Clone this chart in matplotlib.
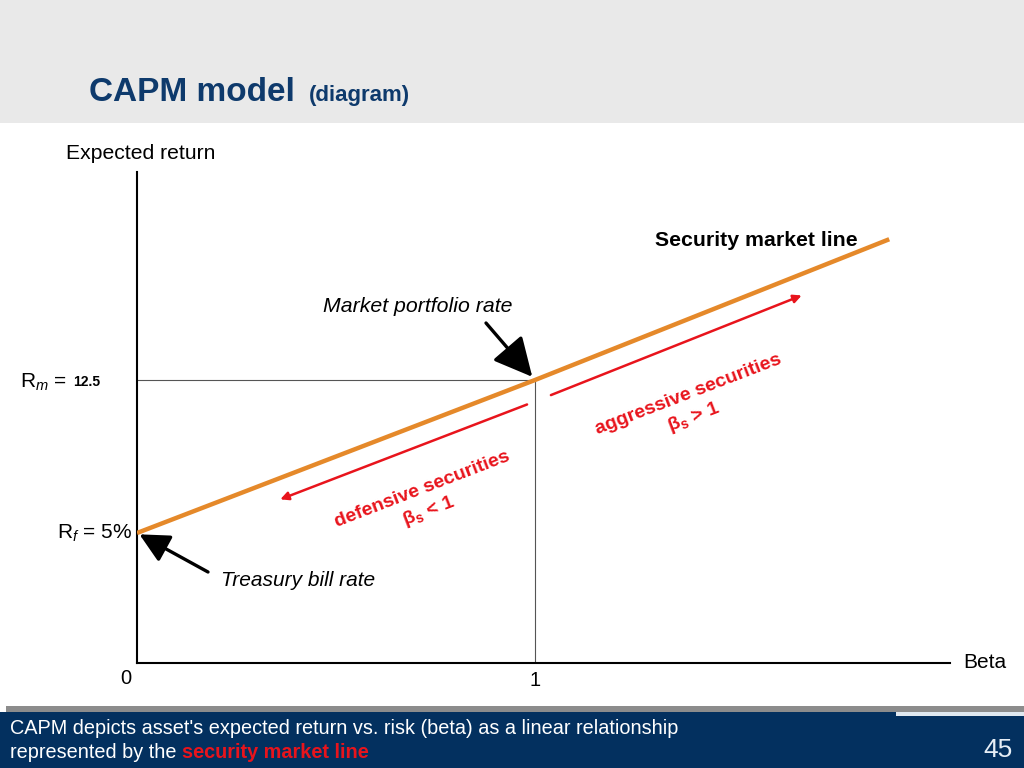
import numpy as np
import matplotlib
matplotlib.use('Agg')
import matplotlib.pyplot as plt
from matplotlib.patches import Rectangle

plt.rcParams['font.family'] = ['Liberation Sans', 'DejaVu Sans']
plt.rcParams['mathtext.fontset'] = 'custom'
plt.rcParams['mathtext.rm'] = 'Liberation Sans'
plt.rcParams['mathtext.it'] = 'Liberation Sans:italic'
plt.rcParams['mathtext.bf'] = 'Liberation Sans:bold'

# data
sml_beta = [0.0, 1.0, 1.89]
sml_return = [5.0, 12.5, 19.4]
rf = 5.0
rm = 12.5
defensive_beta = [0.36, 0.98]   # arrow points to the left
aggressive_beta = [1.04, 1.67]  # arrow points to the right
arrow_offset = -1.05

W, H = 1024, 768
fig = plt.figure(figsize=(W / 100, H / 100), dpi=100)


def fx(px):
    return px / W


def fy(py):
    return 1 - py / H


# header band
fig.patches.append(Rectangle((0, fy(123)), 1, 1 - fy(123), transform=fig.transFigure,
                             facecolor='#e9e9e9', edgecolor='none', zorder=0))
fig.text(fx(89), fy(101), 'CAPM model', fontsize=24, fontweight='bold', color='#0e3a6c', va='baseline')
fig.text(fx(309), fy(101), '(diagram)', fontsize=16, fontweight='bold', color='#0e3a6c', va='baseline')

# footer
navy = '#03305f'
fig.patches.append(Rectangle((fx(6), fy(712)), 1, fy(706) - fy(712), transform=fig.transFigure,
                             facecolor='#8c8c8c', edgecolor='none', zorder=0))
fig.patches.append(Rectangle((0, 0), fx(896), fy(712), transform=fig.transFigure,
                             facecolor=navy, edgecolor='none', zorder=1))
fig.patches.append(Rectangle((fx(896), fy(716)), 1, fy(712) - fy(716), transform=fig.transFigure,
                             facecolor='#dfe8f0', edgecolor='none', zorder=1))
fig.patches.append(Rectangle((fx(896), 0), 1, fy(716), transform=fig.transFigure,
                             facecolor=navy, edgecolor='none', zorder=1))
fig.text(fx(10), fy(734), "CAPM depicts asset's expected return vs. risk (beta) as a linear relationship",
         fontsize=14.3, color='white', va='baseline', zorder=2)
t1 = fig.text(fx(10), fy(758), 'represented by the ', fontsize=14.3, color='white', va='baseline', zorder=2)
fig.canvas.draw()
bb = t1.get_window_extent()
fig.text(bb.x1 / W, fy(758), 'security market line', fontsize=14.3, color='#e8141c',
         fontweight='bold', va='baseline', zorder=2)
fig.text(fx(1013), fy(757), '45', fontsize=19, color='#e6eef6', ha='right', va='baseline', zorder=2)

# axes placed so that beta 0 -> x=137px, beta 1 -> 535px, return 5 -> 533px, 12.5 -> 380px
ax = fig.add_axes([fx(137), fy(663), fx(950) - fx(137), fy(172) - fy(663)])
px_per_beta = 398.0
px_per_ret = (533 - 380) / (rm - rf)
ax.set_xlim(0, (950 - 137) / px_per_beta)
ax.set_ylim(rf - (663 - 533) / px_per_ret, rf + (533 - 172) / px_per_ret)
ax.patch.set_alpha(0)
for s in ['top', 'right']:
    ax.spines[s].set_visible(False)
for s in ['left', 'bottom']:
    ax.spines[s].set_linewidth(1.5)
ax.set_xticks([1])
ax.set_xticklabels(['1'], fontsize=14.5)
ax.set_yticks([])
ax.tick_params(axis='x', length=0, pad=6)

ymin = ax.get_ylim()[0]
ax.plot([0, 1], [rm, rm], color='#555555', lw=0.8, zorder=2)
ax.plot([1, 1], [ymin, rm], color='#555555', lw=0.8, zorder=2)

# security market line
ax.plot(sml_beta, sml_return, color='#e5892a', lw=3.2, solid_capstyle='butt', zorder=3)

# red arrows below the line
red = '#e8141c'
d_ret = np.interp(defensive_beta, sml_beta, sml_return) + arrow_offset
a_ret = np.interp(aggressive_beta, sml_beta, sml_return) + arrow_offset
ax.annotate('', xy=(defensive_beta[0], d_ret[0]), xytext=(defensive_beta[1], d_ret[1]),
            arrowprops=dict(arrowstyle='-|>', color=red, lw=1.8, mutation_scale=12,
                            shrinkA=0, shrinkB=0))
ax.annotate('', xy=(aggressive_beta[1], a_ret[1]), xytext=(aggressive_beta[0], a_ret[0]),
            arrowprops=dict(arrowstyle='-|>', color=red, lw=1.8, mutation_scale=12,
                            shrinkA=0, shrinkB=0))

# black pointer arrows
ax.annotate('', xy=(1, rm), xytext=(fx(486), fy(323)), textcoords='figure fraction',
            arrowprops=dict(arrowstyle='-|>,head_length=0.7,head_width=0.35', color='black',
                            lw=2.4, mutation_scale=34, shrinkA=0, shrinkB=3))
ax.annotate('', xy=(0, rf), xytext=(fx(208), fy(572)), textcoords='figure fraction',
            arrowprops=dict(arrowstyle='-|>,head_length=0.6,head_width=0.3', color='black',
                            lw=2.4, mutation_scale=30, shrinkA=0, shrinkB=2))

# rotated labels
ang = np.degrees(np.arctan(px_per_ret * (rm - rf) / px_per_beta))
fig.text(fx(422), fy(489), 'defensive securities', fontsize=14, fontweight='bold', color=red,
         rotation=ang, rotation_mode='anchor', ha='center', va='center')
fig.text(fx(429), fy(511), r'β$_\mathbf{s}$ < 1', fontsize=14, fontweight='bold', color=red,
         rotation=ang, rotation_mode='anchor', ha='center', va='center')
fig.text(fx(688), fy(395), 'aggressive securities', fontsize=14, fontweight='bold', color=red,
         rotation=ang, rotation_mode='anchor', ha='center', va='center')
fig.text(fx(694), fy(417), r'β$_\mathbf{s}$ > 1', fontsize=14, fontweight='bold', color=red,
         rotation=ang, rotation_mode='anchor', ha='center', va='center')

# other text
fig.text(fx(66), fy(159), 'Expected return', fontsize=15.2, va='baseline')
fig.text(fx(963), fy(668), 'Beta', fontsize=15, va='baseline')
fig.text(fx(126), fy(684), '0', fontsize=14.5, ha='center', va='baseline')
fig.text(fx(655), fy(246), 'Security market line', fontsize=15.3, fontweight='bold', va='baseline')
fig.text(fx(323), fy(312), 'Market portfolio rate', fontsize=15.3, style='italic', va='baseline')
fig.text(fx(221), fy(586), 'Treasury bill rate', fontsize=15, style='italic', va='baseline')
fig.text(fx(20), fy(388), r'R$_{\mathit{m}}$ = ', fontsize=15, va='baseline')
fig.text(fx(73), fy(386), '12.5', fontsize=10, fontweight='bold', va='baseline')
fig.text(fx(57), fy(539), r'R$_{\mathit{f}}$ = 5%', fontsize=15, va='baseline')

fig.savefig('out.png', dpi=100)
